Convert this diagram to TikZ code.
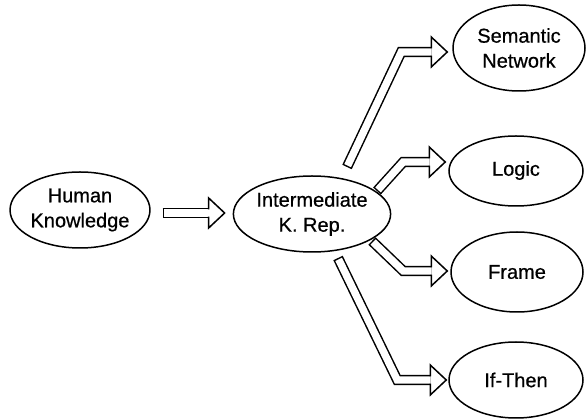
\documentclass[tikz,border=0pt]{standalone}
\usepackage{fontspec}
\setmainfont{Liberation Sans}[FakeBold=0.6]
\usetikzlibrary{calc,shapes.geometric}

% hollow block arrow: start, bend, tip
\newcommand\hollowarrow[3]{%
  \path (#3) ++(-16,0) coordinate (hb);
  \draw[shaftout] (#1) -- (#2) -- (hb);
  \draw[shaftin] (#1) -- (#2) -- (hb);
  \draw[headline] ($(hb)+(0,-3.6)$) -- ($(hb)+(0,-15)$) -- (#3)
                  -- ($(hb)+(0,15)$) -- ($(hb)+(0,3.6)$);
}

\begin{document}
\begin{tikzpicture}[x=1pt,y=-1pt,
  concept/.style={draw, line width=1.5pt, ellipse, inner sep=0pt,
    align=center, font=\fontsize{20}{25}\selectfont},
  shaftout/.style={line width=10.4pt, black, line join=miter},
  shaftin/.style={line width=7.4pt, white, line join=miter, shorten <=1.5pt},
  headline/.style={line width=1.5pt, line join=miter, line cap=butt}]
\useasboundingbox (0,0) rectangle (587,419);

\node[concept, minimum width=134pt, minimum height=76pt] (hk)  at (80,210)  {Human\\Knowledge};
\node[concept, minimum width=134pt, minimum height=76pt] (ikr) at (312,214) {Intermediate\\K. Rep.};
\node[concept, minimum width=132pt, minimum height=86pt] (sn)  at (519,48)  {Semantic\\Network};
\node[concept, minimum width=134pt, minimum height=70pt] (lg)  at (516,171) {\raisebox{5pt}{Logic}};
\node[concept, minimum width=132pt, minimum height=80pt] (fr)  at (517,272) {Frame};
\node[concept, minimum width=134pt, minimum height=76pt] (it)  at (516,380) {If-Then};

% start, bend and tip points of the connectors
\coordinate (t1) at ($(ikr.west)+(-8,-1)$);
\coordinate (s1) at ($(hk.east)+(12,3)$);
\coordinate (b1) at ($(s1)!0.5!(t1)$);

\coordinate (t2) at ($(sn.west)+(-5,4)$);
\coordinate (s2) at ($(ikr.center)+(35,-47)$);
\coordinate (b2) at ($(t2)+(-46,0)$);

\coordinate (t3) at ($(lg.west)+(-3,-9)$);
\coordinate (s3) at ($(ikr.center)+(65,-23)$);
\coordinate (b3) at ($(t3)+(-42,0)$);

\coordinate (t4) at ($(fr.west)+(-3,-1)$);
\coordinate (s4) at ($(ikr.center)+(60,27)$);
\coordinate (b4) at ($(t4)+(-44,0)$);

\coordinate (t5) at ($(it.west)+(-2,0)$);
\coordinate (s5) at ($(ikr.center)+(26,44)$);
\coordinate (b5) at ($(t5)+(-49,0)$);

\hollowarrow{s1}{b1}{t1}
\hollowarrow{s2}{b2}{t2}
\hollowarrow{s3}{b3}{t3}
\hollowarrow{s4}{b4}{t4}
\hollowarrow{s5}{b5}{t5}
\end{tikzpicture}
\end{document}
